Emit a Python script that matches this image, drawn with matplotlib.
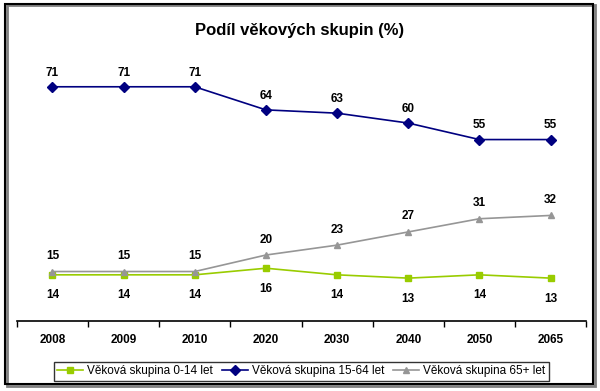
import matplotlib.pyplot as plt
from matplotlib.patches import Rectangle

plt.rcParams['font.family'] = ['Liberation Sans', 'DejaVu Sans']

roky = ['2008', '2009', '2010', '2020', '2030', '2040', '2050', '2065']
skupina_0_14 = [14, 14, 14, 16, 14, 13, 14, 13]
skupina_15_64 = [71, 71, 71, 64, 63, 60, 55, 55]
skupina_65 = [15, 15, 15, 20, 23, 27, 31, 32]

fig = plt.figure(figsize=(6, 3.91), dpi=100)
ax = fig.add_axes([0.028, 0.179, 0.949, 0.675])
x = list(range(len(roky)))

ax.plot(x, skupina_0_14, '-s', color='#99CC00', ms=4, lw=1.2,
        label='Věková skupina 0-14 let')
ax.plot(x, skupina_15_64, '-D', color='#000080', ms=5, lw=1.2,
        label='Věková skupina 15-64 let')
ax.plot(x, skupina_65, '-^', color='#969696', ms=5, lw=1.2,
        label='Věková skupina 65+ let')

for i in x:
    ax.annotate(str(skupina_15_64[i]), (i, skupina_15_64[i]), xytext=(0, 8),
                textcoords='offset points', ha='center', fontsize=8.5, fontweight='bold')
    ax.annotate(str(skupina_65[i]), (i, skupina_65[i]), xytext=(0, 9),
                textcoords='offset points', ha='center', fontsize=8.5, fontweight='bold')
    ax.annotate(str(skupina_0_14[i]), (i, skupina_0_14[i]), xytext=(0, -17),
                textcoords='offset points', ha='center', fontsize=8.5, fontweight='bold')

ax.set_xlim(-0.5, 7.5)
ax.set_ylim(0, 80)
ax.set_xticks(x)
ax.set_xticklabels(roky, fontsize=8.5, fontweight='bold')
ax.set_xticks([i - 0.5 for i in range(len(roky) + 1)], minor=True)
ax.tick_params(axis='x', which='major', length=0, pad=9)
ax.tick_params(axis='x', which='minor', length=4, width=1, direction='out')
ax.set_yticks([])
for s in ['top', 'right', 'left']:
    ax.spines[s].set_visible(False)
ax.spines['bottom'].set_linewidth(1.2)

fig.text(0.5, 0.923, 'Podíl věkových skupin (%)', ha='center', va='center',
         fontsize=12, fontweight='bold')

leg = fig.legend(loc='center', bbox_to_anchor=(0.502, 0.051), ncol=3, fontsize=8.5,
                 frameon=True, fancybox=False, edgecolor='black', handlelength=2.2,
                 columnspacing=0.8, handletextpad=0.3, borderpad=0.3)
leg.get_frame().set_linewidth(1)

fig.patches.append(Rectangle((0.011, 0.013), 0.98, 0.975, transform=fig.transFigure,
                             fill=False, edgecolor='#808080', lw=2))
fig.patches.append(Rectangle((0.008, 0.018), 0.98, 0.972, transform=fig.transFigure,
                             fill=False, edgecolor='black', lw=1.5))

fig.savefig('out.png', dpi=100)
